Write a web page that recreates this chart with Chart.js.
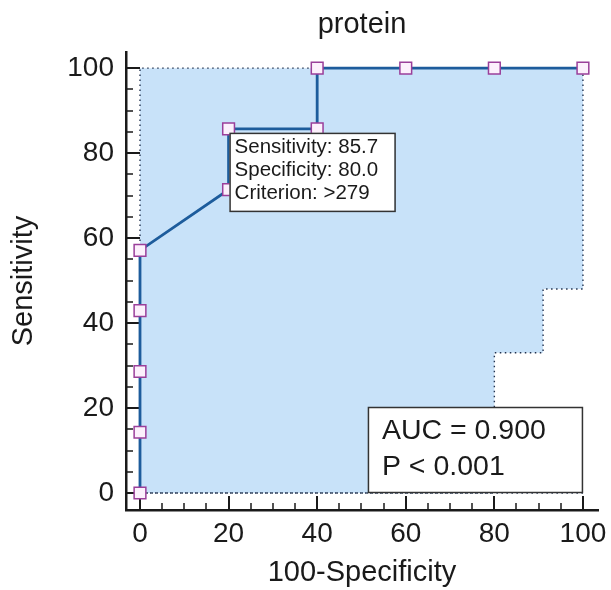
<!DOCTYPE html>
<html>
<head>
<meta charset="utf-8">
<script src="https://cdn.jsdelivr.net/npm/chart.js@4.4.1/dist/chart.umd.min.js"></script>
<style>
  html, body { margin: 0; padding: 0; background: #fff; }
</style>
</head>
<body>
<canvas id="roc" width="611" height="590"></canvas>
<script>
// ROC curve points (100-Specificity, Sensitivity)
const fpr = [0, 0, 0, 0, 0, 20, 20, 40, 40, 60, 80, 100];
const sensitivity = [0, 14.3, 28.6, 42.9, 57.1, 71.4, 85.7, 85.7, 100, 100, 100, 100];

// 95% CI band: lower bound steps, and the outer frame (bottom, left, top)
const ciLowerX = [0, 80, 80, 91, 91, 100, 100];
const ciLowerY = [0, 0, 33, 33, 48, 48, 100];
const ciFrameX = [100, 0, 0, 100];
const ciFrameY = [0, 0, 100, 100];

const majorTicks = [0, 20, 40, 60, 80, 100];
const minorTicks = [5, 10, 15, 25, 30, 35, 45, 50, 55, 65, 70, 75, 85, 90, 95];

const criterionPoint = { x: 20, y: 85.7 };
const criterionLines = ["Sensitivity: 85.7", "Specificity: 80.0", "Criterion: >279"];
const aucLines = ["AUC = 0.900", "P < 0.001"];

const ink = "#1a1a1a";
const fontFamily = '"Liberation Sans", Arial, Helvetica, sans-serif';
const toPoints = (xs, ys) => xs.map((x, i) => ({ x, y: ys[i] }));

// MedCalc style: ticks point inward from the axis line
const inwardTicks = {
  id: "inwardTicks",
  beforeDatasetsDraw(chart) {
    const { ctx, chartArea, scales: { x, y } } = chart;
    ctx.save();
    ctx.strokeStyle = ink;
    const mark = (vals, len, width) => {
      ctx.lineWidth = width;
      ctx.beginPath();
      vals.forEach((v) => {
        const px = Math.round(x.getPixelForValue(v));
        ctx.moveTo(px, chartArea.bottom);
        ctx.lineTo(px, chartArea.bottom - len);
        const py = Math.round(y.getPixelForValue(v));
        ctx.moveTo(chartArea.left, py);
        ctx.lineTo(chartArea.left + len, py);
      });
      ctx.stroke();
    };
    mark(majorTicks, 14, 2);
    mark(minorTicks, 7, 1.5);
    ctx.restore();
  },
};

function textBox(ctx, left, top, w, h, lines, size, lineGap, padX, padY) {
  ctx.fillStyle = "#ffffff";
  ctx.fillRect(left, top, w, h);
  ctx.strokeStyle = "#333333";
  ctx.lineWidth = 1.5;
  ctx.strokeRect(left + 0.5, top + 0.5, w, h);
  ctx.fillStyle = ink;
  ctx.font = `${size}px ${fontFamily}`;
  ctx.textBaseline = "top";
  ctx.textAlign = "left";
  lines.forEach((t, i) => ctx.fillText(t, left + padX, top + padY + i * lineGap));
}

const boxes = {
  id: "boxes",
  afterDatasetsDraw(chart) {
    const { ctx, scales: { x, y } } = chart;
    ctx.save();
    const cx = x.getPixelForValue(criterionPoint.x);
    const cy = y.getPixelForValue(criterionPoint.y);
    textBox(ctx, cx + 1, cy + 4, 165, 78, criterionLines, 20.5, 23, 5, 4);
    const right = x.getPixelForValue(100);
    const bottom = y.getPixelForValue(0);
    textBox(ctx, right - 215, bottom - 86, 214, 85, aucLines, 28.5, 36, 14, 10);
    ctx.restore();
  },
};

const tickFont = { size: 28, family: fontFamily };
const titleFont = { size: 29, family: fontFamily };

new Chart(document.getElementById("roc"), {
  type: "line",
  data: {
    datasets: [
      {
        label: "ROC",
        data: toPoints(fpr, sensitivity),
        borderColor: "#1d5c9c",
        borderWidth: 2.8,
        pointStyle: "rect",
        pointRadius: 8.3,
        pointBackgroundColor: "#fcf0fc",
        pointBorderColor: "#9a3f9a",
        pointBorderWidth: 1.5,
        tension: 0,
        fill: false,
        order: 0,
      },
      {
        label: "CI lower",
        data: toPoints(ciLowerX, ciLowerY),
        borderColor: "#22324f",
        borderWidth: 1.4,
        borderDash: [1.5, 3.5],
        backgroundColor: "#c8e2f9",
        fill: { value: 100 },
        pointRadius: 0,
        tension: 0,
        order: 2,
      },
      {
        label: "CI frame",
        data: toPoints(ciFrameX, ciFrameY),
        borderColor: "#22324f",
        borderWidth: 1.4,
        borderDash: [1.5, 3.5],
        fill: false,
        pointRadius: 0,
        tension: 0,
        order: 1,
      },
    ],
  },
  options: {
    responsive: false,
    animation: false,
    layout: { padding: { left: 0, right: 13, top: 0, bottom: 0 } },
    plugins: {
      legend: { display: false },
      tooltip: { enabled: false },
      title: {
        display: true,
        text: "protein",
        fullSize: false,
        color: ink,
        font: { size: 29, family: fontFamily, weight: "normal" },
        padding: { top: 8, bottom: 9.2 },
      },
    },
    scales: {
      x: {
        type: "linear",
        min: -3.16,
        max: 103.4,
        afterBuildTicks: (axis) => { axis.ticks = majorTicks.map((v) => ({ value: v })); },
        afterFit: (scale) => { scale.height = 80; scale.paddingLeft = 0; scale.paddingRight = 0; },
        grid: { display: false, drawTicks: false },
        border: { display: true, color: ink, width: 2.5 },
        ticks: { font: tickFont, color: ink, padding: 7, maxRotation: 0, autoSkip: false },
        title: { display: true, text: "100-Specificity", color: ink, font: titleFont, padding: { top: 0, bottom: 0 } },
      },
      y: {
        type: "linear",
        min: -4,
        max: 103.8,
        afterBuildTicks: (axis) => { axis.ticks = majorTicks.map((v) => ({ value: v })); },
        afterFit: (scale) => { scale.width = 126; scale.paddingTop = 0; scale.paddingBottom = 0; },
        grid: { display: false, drawTicks: false },
        border: { display: true, color: ink, width: 2.5 },
        ticks: { font: tickFont, color: ink, padding: 12, autoSkip: false },
        title: { display: true, text: "Sensitivity", color: ink, font: titleFont, padding: { top: 7, bottom: 0 } },
      },
    },
  },
  plugins: [inwardTicks, boxes],
});
</script>
</body>
</html>
